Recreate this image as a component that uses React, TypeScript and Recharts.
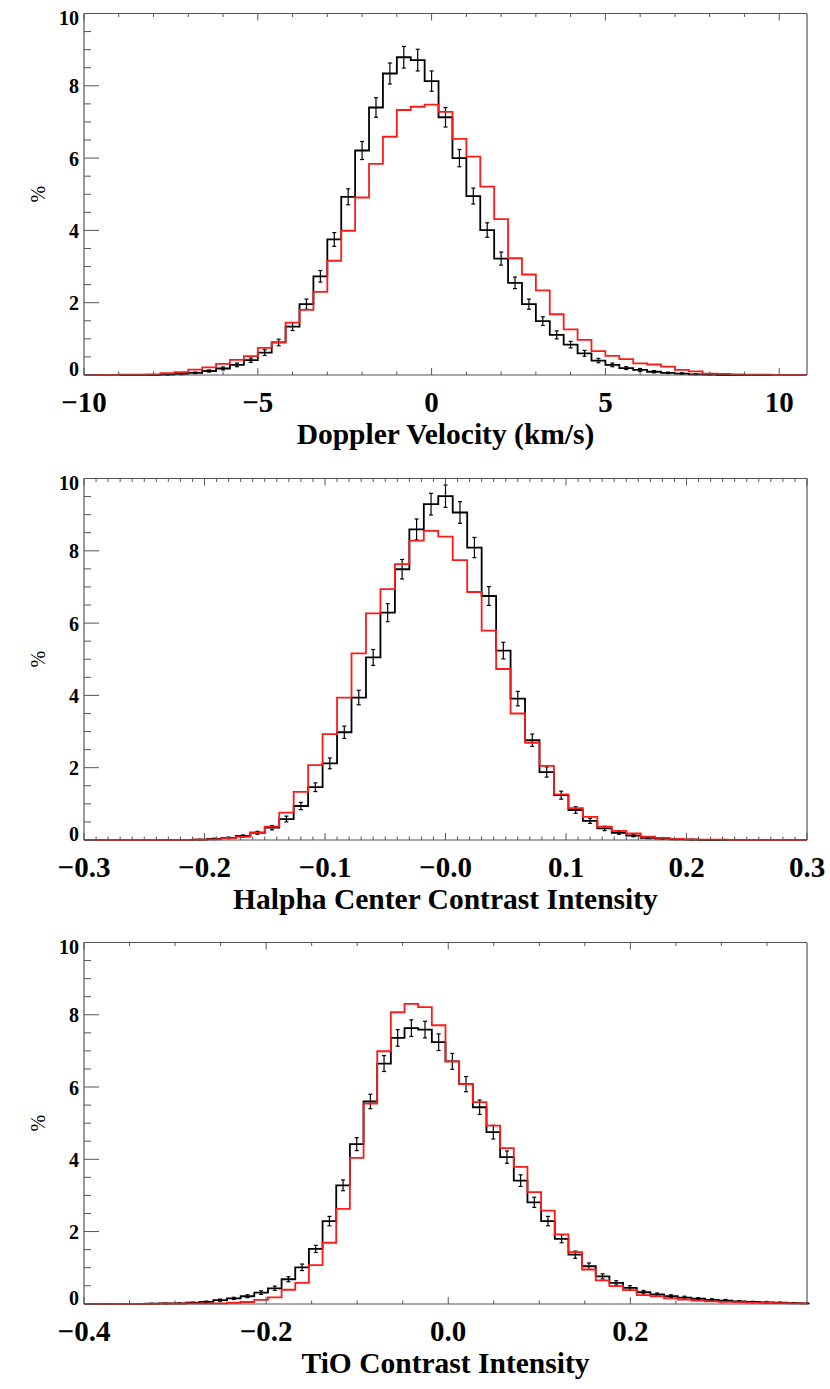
import React from 'react'
import { LineChart, Line, XAxis, YAxis, ErrorBar, Label } from 'recharts'

const SERIF = "'Liberation Serif', 'Times New Roman', serif"
const FRAME = '#555'
const boldText = { fontFamily: SERIF, fontWeight: 700 }

// y axis (percent), same for the three panels
const Y_TICKS = [0, 0.5, 1, 1.5, 2, 2.5, 3, 3.5, 4, 4.5, 5, 5.5, 6, 6.5, 7, 7.5, 8, 8.5, 9, 9.5, 10]
const Y_MAJOR = [0, 2, 4, 6, 8, 10]

// panel 1: Doppler velocity, bins of 0.4 km/s centred from -10 to 10.8
const DOPPLER_START = -10
const DOPPLER_BIN = 0.4
const DOPPLER_BLACK = [
  0, 0, 0, 0, 0, 0,
  0.01, 0.03, 0.06, 0.11, 0.18, 0.28, 0.41, 0.62, 0.9, 1.34,
  1.96, 2.73, 3.75, 4.93, 6.21, 7.4, 8.34, 8.79, 8.71, 8.13,
  7.13, 6.0, 4.95, 4.01, 3.22, 2.55, 1.96, 1.49, 1.11, 0.84,
  0.6, 0.4, 0.28, 0.19, 0.14, 0.09, 0.06, 0.04, 0.02, 0.01,
  0, 0, 0, 0, 0, 0, 0,
]
const DOPPLER_RED = [
  0, 0, 0, 0.01, 0.01, 0.02,
  0.05, 0.08, 0.15, 0.21, 0.31, 0.42, 0.52, 0.75, 0.9, 1.45,
  1.8, 2.3, 3.16, 3.99, 4.91, 5.84, 6.59, 7.33, 7.42, 7.48,
  7.28, 6.53, 6.04, 5.21, 4.31, 3.23, 2.78, 2.34, 1.68, 1.26,
  0.97, 0.66, 0.53, 0.44, 0.32, 0.29, 0.23, 0.14, 0.1, 0.04,
  0.03, 0.02, 0.01, 0.01, 0, 0, 0,
]
const DOPPLER_ERR = [
  null, null, null, null, null, null,
  0.01, 0.02, 0.02, 0.03, 0.04, 0.05, 0.06, 0.08, 0.09, 0.11,
  0.14, 0.16, 0.19, 0.22, 0.25, 0.27, 0.29, 0.3, 0.3, 0.28,
  0.27, 0.24, 0.22, 0.2, 0.18, 0.16, 0.14, 0.12, 0.11, 0.09,
  0.08, 0.06, 0.05, 0.04, 0.04, 0.03, 0.02, 0.02, 0.01, 0.01,
  null, null, null, null, null, null, null,
]
const DOPPLER_MAJOR = [-10, -5, 0, 5, 10]
const DOPPLER_LABELS = ['\u221210', '\u22125', '0', '5', '10']

// panel 2: Halpha centre contrast, bins of 0.012 centred from -0.3 to 0.3
const HALPHA_START = -0.3
const HALPHA_BIN = 0.012
const HALPHA_BLACK = [
  0, 0, 0, 0, 0, 0, 0, 0,
  0.01, 0.03, 0.06, 0.11, 0.2, 0.34, 0.58, 0.94, 1.46, 2.12,
  2.98, 3.94, 5.05, 6.29, 7.49, 8.59, 9.29, 9.51, 9.06, 8.09,
  6.75, 5.24, 3.91, 2.76, 1.88, 1.24, 0.83, 0.53, 0.32, 0.2,
  0.12, 0.06, 0.04, 0.02, 0.01,
  0, 0, 0, 0, 0, 0, 0, 0,
]
const HALPHA_RED = [
  0, 0, 0, 0, 0, 0, 0, 0,
  0.01, 0.02, 0.05, 0.09, 0.2, 0.37, 0.76, 1.33, 2.07, 2.93,
  3.94, 5.16, 6.27, 6.94, 7.63, 8.28, 8.55, 8.39, 7.74, 6.86,
  5.79, 4.73, 3.5, 2.69, 2.05, 1.26, 0.88, 0.64, 0.37, 0.25,
  0.18, 0.09, 0.06, 0.03, 0.02,
  0.01, 0.01, 0, 0, 0, 0, 0, 0,
]
const HALPHA_ERR = [
  null, null, null, null, null, null, null, null,
  0.01, 0.02, 0.02, 0.03, 0.04, 0.06, 0.08, 0.1, 0.12, 0.15,
  0.17, 0.2, 0.22, 0.25, 0.27, 0.29, 0.3, 0.31, 0.3, 0.28,
  0.26, 0.23, 0.2, 0.17, 0.14, 0.11, 0.09, 0.07, 0.06, 0.04,
  0.03, 0.02, 0.02, 0.01, 0.01,
  null, null, null, null, null, null, null, null,
]
const HALPHA_MAJOR = [-0.3, -0.2, -0.1, 0, 0.1, 0.2, 0.3]
const HALPHA_LABELS = ['\u22120.3', '\u22120.2', '\u22120.1', '\u22120.0', '0.1', '0.2', '0.3']

// panel 3: TiO contrast, bins of 0.015 centred from -0.4005 to 0.3945
const TIO_START = -0.4005
const TIO_BIN = 0.015
const TIO_BLACK = [
  0, 0, 0, 0, 0,
  0.005, 0.01, 0.015, 0.03, 0.055, 0.1, 0.15, 0.21, 0.31, 0.43,
  0.68, 1.01, 1.52, 2.29, 3.28, 4.42, 5.6, 6.65, 7.36, 7.63,
  7.59, 7.24, 6.71, 6.08, 5.44, 4.75, 4.06, 3.41, 2.81, 2.29,
  1.8, 1.36, 1.04, 0.76, 0.58, 0.44, 0.32, 0.26, 0.21, 0.17,
  0.14, 0.11, 0.09, 0.07, 0.05, 0.04, 0.03, 0.02, 0.01,
]
const TIO_RED = [
  0, 0, 0, 0, 0,
  0, 0.005, 0.005, 0.01, 0.01, 0.015, 0.03, 0.05, 0.11, 0.18,
  0.39, 0.58, 1.07, 1.69, 2.63, 4.04, 5.54, 6.99, 8.07, 8.3,
  8.21, 7.71, 6.71, 6.08, 5.58, 4.93, 4.31, 3.79, 3.09, 2.58,
  1.92, 1.43, 0.95, 0.65, 0.49, 0.38, 0.24, 0.21, 0.15, 0.12,
  0.09, 0.07, 0.055, 0.045, 0.035, 0.03, 0.02, 0.015, 0.01,
]
const TIO_ERR = [
  null, null, null, null, null,
  0.01, 0.01, 0.01, 0.015, 0.02, 0.03, 0.03, 0.04, 0.05, 0.06,
  0.07, 0.09, 0.1, 0.13, 0.15, 0.18, 0.2, 0.22, 0.23, 0.23,
  0.23, 0.23, 0.22, 0.21, 0.2, 0.19, 0.17, 0.16, 0.14, 0.13,
  0.11, 0.1, 0.09, 0.07, 0.06, 0.06, 0.05, 0.04, 0.04, 0.04,
  0.03, 0.03, 0.03, 0.02, 0.02, 0.02, 0.015, 0.01, 0.01,
]
const TIO_MAJOR = [-0.4, -0.2, 0, 0.2]
const TIO_LABELS = ['\u22120.4', '\u22120.2', '0.0', '0.2']

const same = (a: number, b: number) => Math.abs(a - b) < 1e-6

// minor tick positions along x
function steps(from: number, to: number, step: number) {
  const out: number[] = []
  const n = Math.round((to - from) / step)
  for (let i = 0; i <= n; i++) out.push(Number((from + i * step).toFixed(4)))
  return out
}

function makeRows(start: number, bin: number, black: number[], red: number[], err: (number | null)[]) {
  return black.map((b, i) => ({
    x: Number((start + i * bin).toFixed(4)),
    black: b,
    red: red[i],
    err: err[i],
  }))
}

const bottomTick = (majors: number[], labels: string[]) => (props: any) => {
  const { x, y, payload } = props
  const i = majors.findIndex((m) => same(m, payload.value))
  const len = i >= 0 ? 7 : 3.5
  return (
    <g>
      <line x1={x} y1={y} x2={x} y2={y - len} stroke={FRAME} strokeWidth={1} />
      {i >= 0 && (
        <text x={x} y={y + 37} textAnchor="middle" style={{ ...boldText, fontSize: 29 }} fill="#000">
          {labels[i]}
        </text>
      )}
    </g>
  )
}

const topTick = (majors: number[]) => (props: any) => {
  const { x, y, payload } = props
  const len = majors.some((m) => same(m, payload.value)) ? 7 : 3.5
  return <line x1={x} y1={y} x2={x} y2={y + len} stroke={FRAME} strokeWidth={1} />
}

const leftTick = (props: any) => {
  const { x, y, payload } = props
  const major = Y_MAJOR.some((m) => same(m, payload.value))
  const dy = payload.value === 10 ? 11 : payload.value === 0 ? 1 : 7.5
  return (
    <g>
      <line x1={x} y1={y} x2={x + (major ? 15 : 7)} y2={y} stroke={FRAME} strokeWidth={1} />
      {major && (
        <text x={x - 5} y={y + dy} textAnchor="end" style={{ ...boldText, fontSize: 20 }} fill="#000">
          {payload.value}
        </text>
      )}
    </g>
  )
}

const rightTick = (props: any) => {
  const { x, y, payload } = props
  const major = Y_MAJOR.some((m) => same(m, payload.value))
  return <line x1={x} y1={y} x2={x - (major ? 15 : 7)} y2={y} stroke={FRAME} strokeWidth={1} />
}

interface PanelProps {
  top: number
  rows: any[]
  domain: [number, number]
  ticks: number[]
  majors: number[]
  labels: string[]
  title: string
}

function Panel({ top, rows, domain, ticks, majors, labels, title }: PanelProps) {
  const axisLine = { stroke: FRAME, strokeWidth: 1.2 }
  return (
    <div style={{ position: 'absolute', left: 0, top }}>
      <LineChart width={830} height={460} data={rows} margin={{ top: 12.5, right: 22, bottom: 5, left: 0 }}>
        <XAxis
          type="number"
          dataKey="x"
          domain={domain}
          allowDataOverflow
          ticks={ticks}
          interval={0}
          tickSize={0}
          tickMargin={0}
          tickLine={false}
          axisLine={axisLine}
          height={80}
          tick={bottomTick(majors, labels)}
        >
          <Label
            content={(p: any) => {
              const vb = p.viewBox
              return (
                <text
                  x={vb.x + vb.width / 2}
                  y={vb.y + 69}
                  textAnchor="middle"
                  style={{ ...boldText, fontSize: 29.5 }}
                  fill="#000"
                >
                  {title}
                </text>
              )
            }}
          />
        </XAxis>
        <XAxis
          xAxisId="top"
          orientation="top"
          type="number"
          dataKey="x"
          domain={domain}
          allowDataOverflow
          ticks={ticks}
          interval={0}
          tickSize={0}
          tickMargin={0}
          tickLine={false}
          axisLine={axisLine}
          height={1}
          tick={topTick(majors)}
        />
        <YAxis
          type="number"
          domain={[0, 10]}
          ticks={Y_TICKS}
          interval={0}
          tickSize={0}
          tickMargin={0}
          tickLine={false}
          axisLine={axisLine}
          width={84}
          tick={leftTick}
        >
          <Label
            content={(p: any) => {
              const vb = p.viewBox
              const cx = vb.x + 45
              const cy = vb.y + vb.height / 2
              return (
                <text
                  x={cx}
                  y={cy}
                  textAnchor="middle"
                  transform={`rotate(-90 ${cx} ${cy})`}
                  style={{ fontFamily: SERIF, fontSize: 20 }}
                  fill="#000"
                >
                  %
                </text>
              )
            }}
          />
        </YAxis>
        <YAxis
          yAxisId="right"
          orientation="right"
          type="number"
          domain={[0, 10]}
          ticks={Y_TICKS}
          interval={0}
          tickSize={0}
          tickMargin={0}
          tickLine={false}
          axisLine={axisLine}
          width={1}
          tick={rightTick}
        />
        <Line
          dataKey="black"
          type="step"
          stroke="#000"
          strokeWidth={1.8}
          dot={false}
          activeDot={false}
          isAnimationActive={false}
        >
          <ErrorBar dataKey="err" direction="y" width={2} stroke="#000" strokeWidth={1.2} isAnimationActive={false} />
        </Line>
        <Line
          dataKey="red"
          type="step"
          stroke="#ff1a1a"
          strokeWidth={1.8}
          dot={false}
          activeDot={false}
          isAnimationActive={false}
        />
      </LineChart>
    </div>
  )
}

export default function App() {
  return (
    <div style={{ position: 'absolute', left: 0, top: 0, width: 830, height: 1389, background: '#fff' }}>
      <Panel
        top={0}
        rows={makeRows(DOPPLER_START, DOPPLER_BIN, DOPPLER_BLACK, DOPPLER_RED, DOPPLER_ERR)}
        domain={[-10, 10.8]}
        ticks={steps(-10, 10, 1)}
        majors={DOPPLER_MAJOR}
        labels={DOPPLER_LABELS}
        title="Doppler Velocity (km/s)"
      />
      <Panel
        top={464.8}
        rows={makeRows(HALPHA_START, HALPHA_BIN, HALPHA_BLACK, HALPHA_RED, HALPHA_ERR)}
        domain={[-0.3, 0.3]}
        ticks={steps(-0.3, 0.3, 0.01)}
        majors={HALPHA_MAJOR}
        labels={HALPHA_LABELS}
        title="Halpha Center Contrast Intensity"
      />
      <Panel
        top={929.2}
        rows={makeRows(TIO_START, TIO_BIN, TIO_BLACK, TIO_RED, TIO_ERR)}
        domain={[-0.4, 0.394]}
        ticks={steps(-0.4, 0.35, 0.05)}
        majors={TIO_MAJOR}
        labels={TIO_LABELS}
        title="TiO Contrast Intensity"
      />
    </div>
  )
}
